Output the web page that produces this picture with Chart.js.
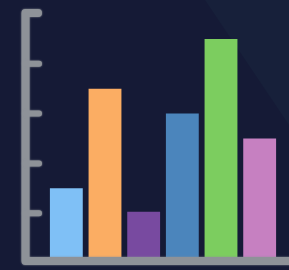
<!DOCTYPE html>
<html>
<head>
<meta charset="utf-8">
<script src="https://cdn.jsdelivr.net/npm/chart.js@4/dist/chart.umd.min.js"></script>
<style>
  html, body { margin: 0; padding: 0; background: #151a36; }
  #chart { display: block; }
</style>
</head>
<body>
<canvas id="chart" width="289" height="270"></canvas>
<script>
// bar data (no labels shown in the picture)
const categories = ['A', 'B', 'C', 'D', 'E', 'F'];
const values = [14, 34, 9.3, 29, 44, 24];
const barColors = ['#7fc0f6', '#fbad63', '#784aa0', '#4b85bc', '#7ccd5f', '#c680c1'];
const tickValues = [9, 19, 29, 39];
const yMax = 49;

// background + hand-drawn looking axes
const chalkAxes = {
    id: 'chalkAxes',
    beforeDraw(chart) {
        const ctx = chart.ctx;
        ctx.save();
        ctx.fillStyle = '#151a36';
        ctx.fillRect(0, 0, chart.width, chart.height);
        // slightly lighter corner at top right
        ctx.fillStyle = '#17203a';
        ctx.beginPath();
        ctx.moveTo(205, 0);
        ctx.lineTo(chart.width, 0);
        ctx.lineTo(chart.width, 125);
        ctx.closePath();
        ctx.fill();
        ctx.restore();
    },
    beforeDatasetsDraw(chart) {
        // soften bar edges a little, like the painted look
        chart.ctx.save();
        chart.ctx.filter = 'blur(0.5px)';
    },
    afterDatasetsDraw(chart) {
        const ctx = chart.ctx;
        ctx.restore();
        const y = chart.scales.y;
        const axisX = 25.5;
        const base = y.getPixelForValue(0) + 3;
        const top = y.getPixelForValue(yMax) - 1;
        ctx.save();
        ctx.strokeStyle = '#8e9298';
        ctx.lineCap = 'round';
        ctx.lineJoin = 'round';
        ctx.lineWidth = 8;
        ctx.shadowColor = '#8e9298';
        ctx.shadowBlur = 2;
        // y axis with the top hook
        ctx.beginPath();
        ctx.moveTo(38, top);
        ctx.lineTo(axisX, top);
        ctx.lineTo(axisX, base);
        ctx.lineTo(chart.width + 5, base);
        ctx.stroke();
        // tick nubs
        ctx.lineWidth = 6;
        tickValues.forEach(v => {
            const py = y.getPixelForValue(v);
            ctx.beginPath();
            ctx.moveTo(axisX, py);
            ctx.lineTo(39, py);
            ctx.stroke();
        });
        ctx.restore();
    }
};

new Chart(document.getElementById('chart'), {
    type: 'bar',
    data: {
        labels: categories,
        datasets: [{
            data: values,
            backgroundColor: barColors,
            borderWidth: 0,
            categoryPercentage: 1,
            barPercentage: 0.85
        }]
    },
    options: {
        responsive: false,
        animation: false,
        layout: { padding: { left: 47, right: 10, top: 14, bottom: 12 } },
        plugins: { legend: { display: false }, tooltip: { enabled: false } },
        scales: {
            x: { display: false },
            y: { display: false, min: 0, max: yMax }
        }
    },
    plugins: [chalkAxes]
});
</script>
</body>
</html>
